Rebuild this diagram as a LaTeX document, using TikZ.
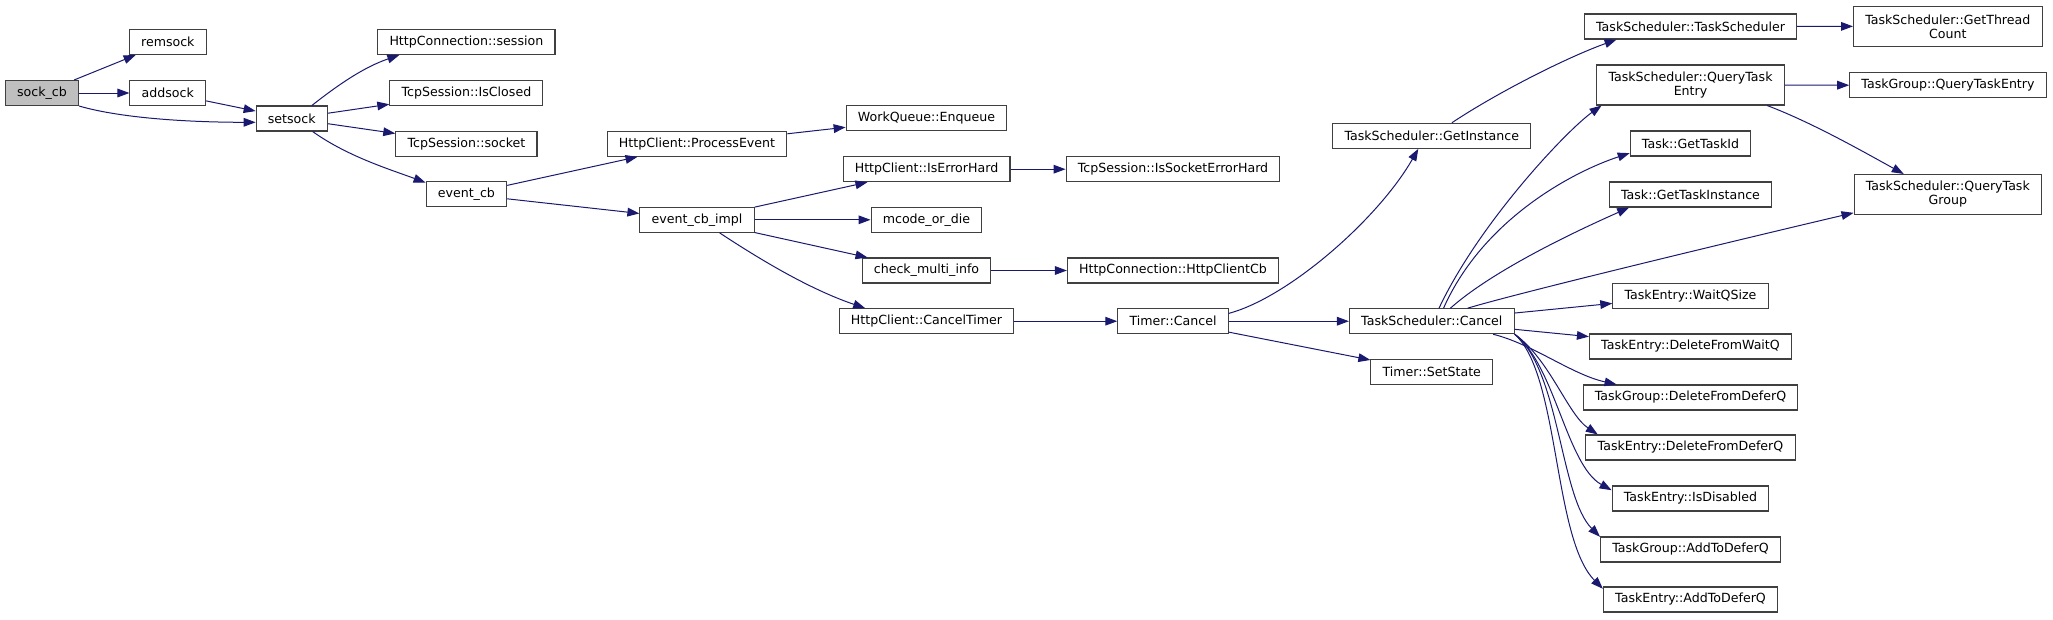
\documentclass[tikz,border=0pt]{standalone}
\usepackage{fontspec}
\setmainfont{DejaVu Sans}
\usetikzlibrary{arrows.meta}
\definecolor{midnightblue}{RGB}{25,25,112}
\definecolor{grey25}{RGB}{64,64,64}
\definecolor{grey75}{RGB}{191,191,191}

\begin{document}
\begin{tikzpicture}[x=0.75pt, y=0.75pt,
		every node/.style={draw=grey25, fill=white, line width=0.8pt, inner xsep=8.8pt, inner ysep=2pt, minimum height=18.75pt, align=center, font=\fontsize{9.45pt}{10.5pt}\selectfont},
		root/.style={fill=grey75},
		twoline/.style={minimum height=30pt},
		call/.style={draw=midnightblue, line width=0.75pt, -{Triangle[length=9pt, width=6.5pt]}}]

	\useasboundingbox (0,0) rectangle (2053,-619);

	\node[root] (sockcb) at (42,-93) {sock\_cb};
	\node (remsock) at (167.8,-42) {remsock};
	\node (addsock) at (167.8,-93) {addsock};
	\node (setsock) at (291.8,-118.5) {setsock};
	\node (session) at (466.4,-42) {HttpConnection::session};
	\node (isclosed) at (466.4,-93) {TcpSession::IsClosed};
	\node (socket) at (466.4,-143.7) {TcpSession::socket};
	\node (eventcb) at (466.4,-194.3) {event\_cb};
	\node (processevent) at (697,-143.8) {HttpClient::ProcessEvent};
	\node (eventcbimpl) at (697,-219.8) {event\_cb\_impl};
	\node (enqueue) at (926.5,-118.3) {WorkQueue::Enqueue};
	\node (iserrorhard) at (926.5,-169.2) {HttpClient::IsErrorHard};
	\node (mcode) at (926.5,-219.8) {mcode\_or\_die};
	\node (checkmulti) at (926.5,-270.5) {check\_multi\_info};
	\node (canceltimer) at (926.5,-321.2) {HttpClient::CancelTimer};
	\node (issocketerrorhard) at (1173,-169.2) {TcpSession::IsSocketErrorHard};
	\node (httpclientcb) at (1173,-270.5) {HttpConnection::HttpClientCb};
	\node (timercancel) at (1173,-321.2) {Timer::Cancel};
	\node (getinstance) at (1431.8,-135.8) {TaskScheduler::GetInstance};
	\node (tscancel) at (1431.8,-321.2) {TaskScheduler::Cancel};
	\node (setstate) at (1431.8,-372) {Timer::SetState};
	\node (tsctor) at (1690.5,-26.5) {TaskScheduler::TaskScheduler};
	\node[twoline] (querytaskentry) at (1690.5,-85) {TaskScheduler::QueryTask\\Entry};
	\node (gettaskid) at (1690.5,-143.5) {Task::GetTaskId};
	\node (gettaskinstance) at (1690.5,-194.5) {Task::GetTaskInstance};
	\node (waitqsize) at (1690.5,-295.7) {TaskEntry::WaitQSize};
	\node (delwaitq) at (1690.5,-346.5) {TaskEntry::DeleteFromWaitQ};
	\node (tgdeldeferq) at (1690.5,-397.5) {TaskGroup::DeleteFromDeferQ};
	\node (tedeldeferq) at (1690.5,-447.5) {TaskEntry::DeleteFromDeferQ};
	\node (isdisabled) at (1690.5,-498.5) {TaskEntry::IsDisabled};
	\node (tgaddq) at (1690.5,-549.5) {TaskGroup::AddToDeferQ};
	\node (teaddq) at (1690.5,-599.5) {TaskEntry::AddToDeferQ};
	\node[twoline] (getthreadcount) at (1947.8,-26.3) {TaskScheduler::GetThread\\Count};
	\node (tgquerytaskentry) at (1948,-85.3) {TaskGroup::QueryTaskEntry};
	\node[twoline] (querytaskgroup) at (1947.8,-194.5) {TaskScheduler::QueryTask\\Group};

	\draw[call] (sockcb) -- (remsock);
	\draw[call] (sockcb) -- (addsock);
	\draw[call] (sockcb.south east) .. controls +(45,-13) and +(-60,0) .. (setsock.186);
	\draw[call] (addsock) -- (setsock);
	\draw[call] (setsock.33) .. controls +(28,22) and +(-35,-12) .. (session.191);
	\draw[call] (setsock) -- (isclosed);
	\draw[call] (setsock) -- (socket);
	\draw[call] (setsock.-32) .. controls +(35,-25) and +(-35,13) .. (eventcb.164);
	\draw[call] (eventcb) -- (processevent);
	\draw[call] (eventcb) -- (eventcbimpl);
	\draw[call] (processevent) -- (enqueue);
	\draw[call] (eventcbimpl) -- (iserrorhard);
	\draw[call] (eventcbimpl) -- (mcode);
	\draw[call] (eventcbimpl) -- (checkmulti);
	\draw[call] (eventcbimpl.-30) .. controls +(50,-33) and +(-50,17) .. (canceltimer.168);
	\draw[call] (iserrorhard) -- (issocketerrorhard);
	\draw[call] (checkmulti) -- (httpclientcb);
	\draw[call] (canceltimer) -- (timercancel);
	\draw[call] (timercancel.8) .. controls +(60,16) and +(-40,-70) .. (getinstance.-136);
	\draw[call] (timercancel) -- (tscancel);
	\draw[call] (timercancel) -- (setstate);
	\draw[call] (getinstance.33) .. controls +(45,30) and +(-50,-18) .. (tsctor.-170);
	\draw[call] (tsctor) -- (getthreadcount);
	\draw[call] (tscancel.61) .. controls +(40,85) and +(-35,-25) .. (querytaskentry.193);
	\draw[call] (tscancel.48) .. controls +(40,90) and +(-55,-18) .. (gettaskid.189);
	\draw[call] (tscancel.35) .. controls +(45,40) and +(-45,-20) .. (gettaskinstance.192);
	\draw[call] (tscancel.20) .. controls +(60,18) and +(-60,-14) .. (querytaskgroup.191);
	\draw[call] (tscancel) -- (waitqsize);
	\draw[call] (tscancel) -- (delwaitq);
	\draw[call] (tscancel.-12) .. controls +(40,-10) and +(-45,10) .. (tgdeldeferq.170);
	\draw[call] (tscancel.south east) .. controls +(35,-25) and +(-30,20) .. (tedeldeferq.172);
	\draw[call] (tscancel.south east) .. controls +(40,-30) and +(-45,25) .. (isdisabled.174);
	\draw[call] (tscancel.south east) .. controls +(45,-35) and +(-40,40) .. (tgaddq.172);
	\draw[call] (tscancel.south east) .. controls +(45,-40) and +(-50,50) .. (teaddq.173);
	\draw[call] (querytaskentry) -- (tgquerytaskentry);
	\draw[call] (querytaskentry.-15) .. controls +(45,-17) and +(-40,22) .. (querytaskgroup.155);
\end{tikzpicture}
\end{document}
